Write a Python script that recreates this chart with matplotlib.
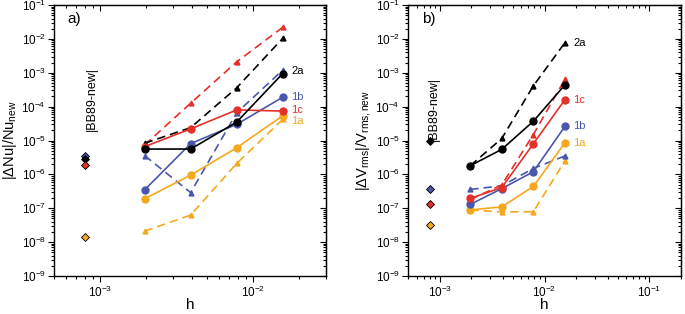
import numpy as np
import matplotlib
matplotlib.use('Agg')
import matplotlib.pyplot as plt
from matplotlib.ticker import LogLocator, NullFormatter

plt.rcParams['font.family'] = ['Liberation Sans', 'DejaVu Sans']
plt.rcParams['mathtext.fontset'] = 'custom'
plt.rcParams['mathtext.rm'] = 'Liberation Sans'
plt.rcParams['mathtext.it'] = 'Liberation Sans'

# grid spacings
h = [1/512, 1/256, 1/128, 1/64]
h_bb = 8e-4

# panel a: |dNu|/Nu_new
nu_1a = [1.9e-7, 9.5e-7, 6.1e-6, 5.4e-5]
nu_1a_d = [2.1e-8, 6.3e-8, 2.1e-6, 4.2e-5]
nu_1b = [3.5e-7, 8.1e-6, 3.0e-5, 1.9e-4]
nu_1b_d = [3.6e-6, 2.9e-7, 6.6e-5, 1.2e-3]
nu_1c = [6.6e-6, 2.2e-5, 8.0e-5, 7.4e-5]
nu_1c_d = [7.4e-6, 1.26e-4, 2.1e-3, 2.2e-2]
nu_2a = [5.6e-6, 5.6e-6, 3.5e-5, 9.5e-4]
nu_2a_d = [8.3e-6, 2.4e-5, 3.6e-4, 1.04e-2]
nu_bb = {'1a': 1.4e-8, '1b': 3.4e-6, '2a': 2.9e-6, '1c': 1.9e-6}

# panel b: |dVrms|/Vrms_new
v_1a = [8.9e-8, 1.1e-7, 4.4e-7, 8.5e-6]
v_1a_d = [8.9e-8, 7.8e-8, 7.9e-8, 2.5e-6]
v_1b = [1.3e-7, 3.8e-7, 1.2e-6, 2.6e-5]
v_1b_d = [3.6e-7, 4.6e-7, 1.5e-6, 3.5e-6]
v_1c = [1.95e-7, 4.1e-7, 8.0e-6, 1.6e-4]
v_1c_d = [1.8e-7, 4.9e-7, 1.5e-5, 6.4e-4]
v_2a = [1.8e-6, 5.5e-6, 3.7e-5, 4.4e-4]
v_2a_d = [1.8e-6, 1.15e-5, 4.1e-4, 7.7e-3]
v_bb = {'1a': 3.2e-8, '1b': 3.8e-7, '2a': 9.5e-6, '1c': 1.3e-7}

colors = {'1a': '#f5a81c', '1b': '#4a56ac', '1c': '#e3302b', '2a': 'black'}

fig = plt.figure(figsize=(6.85, 3.14), dpi=100)
ax1 = fig.add_axes([0.079, 0.121, 0.397, 0.863])
ax2 = fig.add_axes([0.596, 0.121, 0.398, 0.863])


def draw(ax, solid, dashed, bb, xmax, lab_off, bbtext_y):
    for key in ['1a', '1b', '1c', '2a']:
        c = colors[key]
        ax.plot(h, dashed[key], '--', color=c, lw=1.2, dashes=(5, 3),
                marker='^', ms=3.5, zorder=2)
        ax.plot(h, solid[key], '-', color=c, lw=1.2, marker='o', ms=5, zorder=3)
    for key in ['1b', '2a', '1c', '1a']:
        ax.plot(h_bb, bb[key], 'D', color=colors[key], mec='black', mew=0.6,
                ms=4.2, zorder=4)
    ax.text(h_bb * 1.1, bbtext_y, '|BB89-new|', rotation=90, ha='center',
            va='center', fontsize=9)
    for key, (yv, dx, dy) in lab_off.items():
        ax.annotate(key, (h[-1], yv), xytext=(dx, dy), textcoords='offset points',
                    color=colors[key], fontsize=8, va='center', ha='left')
    ax.set_xscale('log')
    ax.set_yscale('log')
    ax.set_xlim(5e-4, xmax)
    ax.set_ylim(1e-9, 1e-1)
    ax.yaxis.set_major_locator(LogLocator(base=10, numticks=20))
    ax.yaxis.set_minor_locator(LogLocator(base=10, subs=np.arange(2, 10), numticks=20))
    ax.yaxis.set_minor_formatter(NullFormatter())
    ax.xaxis.set_minor_formatter(NullFormatter())
    ax.tick_params(which='both', direction='out', labelsize=8.5, width=0.8, pad=2)
    ax.tick_params(which='major', length=4)
    ax.tick_params(which='minor', length=2)
    sx = ax.secondary_xaxis('top')
    sx.set_xscale('log')
    sx.tick_params(which='both', direction='in', labeltop=False, width=0.8)
    sx.tick_params(which='major', length=4)
    sx.tick_params(which='minor', length=2)
    sy = ax.secondary_yaxis('right')
    sy.set_yscale('log')
    sy.yaxis.set_major_locator(LogLocator(base=10, numticks=20))
    sy.yaxis.set_minor_locator(LogLocator(base=10, subs=np.arange(2, 10), numticks=20))
    sy.tick_params(which='both', direction='in', labelright=False, width=0.8)
    sy.tick_params(which='major', length=4)
    sy.tick_params(which='minor', length=2)
    for s in ax.spines.values():
        s.set_linewidth(1.0)
    ax.set_xlabel('h', fontsize=11, labelpad=-1)


draw(ax1,
     {'1a': nu_1a, '1b': nu_1b, '1c': nu_1c, '2a': nu_2a},
     {'1a': nu_1a_d, '1b': nu_1b_d, '1c': nu_1c_d, '2a': nu_2a_d},
     nu_bb, 3e-2,
     {'2a': (nu_2a[-1], 6, 2), '1b': (nu_1b[-1], 6, 0),
      '1c': (nu_1c[-1], 6, 1), '1a': (nu_1a[-1], 6, -4)},
     1.7e-4)
ax1.set_ylabel('|ΔNu|/Nu$_{\\rm new}$', fontsize=10.5, labelpad=2)
ax1.text(0.05, 0.975, 'a)', transform=ax1.transAxes, ha='left', va='top', fontsize=11)

draw(ax2,
     {'1a': v_1a, '1b': v_1b, '1c': v_1c, '2a': v_2a},
     {'1a': v_1a_d, '1b': v_1b_d, '1c': v_1c_d, '2a': v_2a_d},
     v_bb, 2e-1,
     {'2a': (v_2a_d[-1], 6, 0), '1c': (v_1c[-1], 6, 0),
      '1b': (v_1b[-1], 6, 0), '1a': (v_1a[-1], 6, 0)},
     8.5e-5)
ax2.set_ylabel('|ΔV$_{\\rm rms}$|/V$_{\\rm rms,new}$', fontsize=10.5, labelpad=2)
ax2.text(0.05, 0.975, 'b)', transform=ax2.transAxes, ha='left', va='top', fontsize=11)

fig.savefig('out.png', dpi=100)
